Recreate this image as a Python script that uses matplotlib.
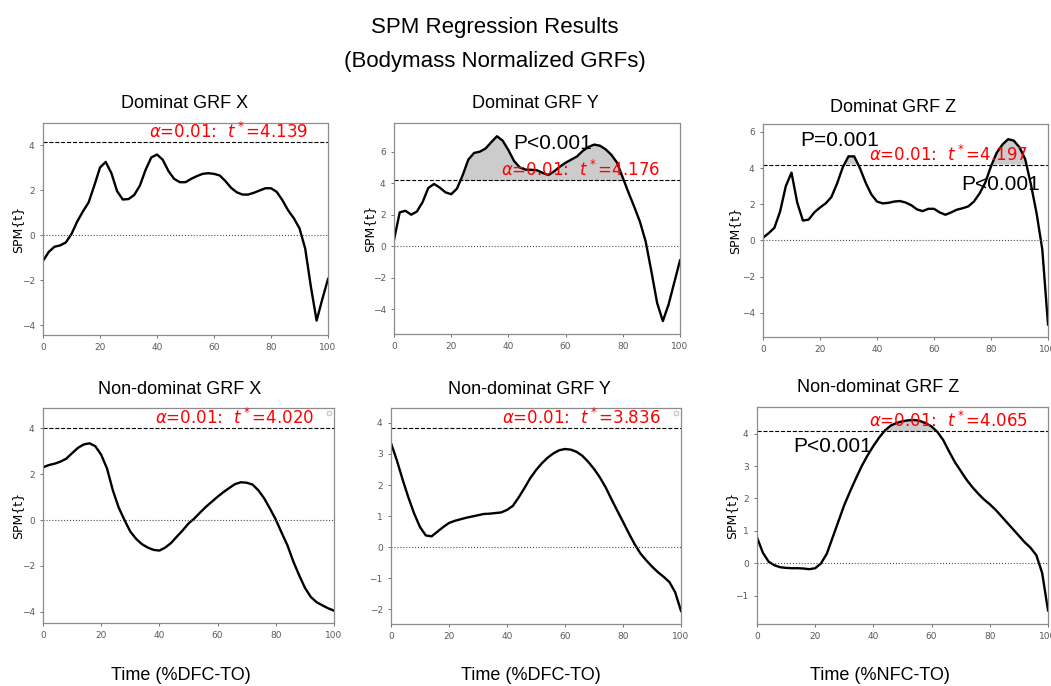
import numpy as np
import matplotlib
matplotlib.use("Agg")
import matplotlib.pyplot as plt

# Tiempo normalizado (% de la fase), muestras cada 2 %
time = np.arange(0, 101, 2)

# Curvas SPM{t}
dom_x = [-1.15, -0.75, -0.52, -0.46, -0.33, 0.05, 0.6, 1.05, 1.45, 2.2, 3.0,
         3.25, 2.75, 1.95, 1.58, 1.6, 1.78, 2.2, 2.9, 3.45, 3.58, 3.35, 2.85,
         2.5, 2.35, 2.35, 2.5, 2.62, 2.72, 2.75, 2.72, 2.65, 2.4, 2.1, 1.9,
         1.8, 1.8, 1.88, 1.98, 2.08, 2.08, 1.92, 1.55, 1.1, 0.75, 0.3, -0.6,
         -2.3, -3.8, -2.85, -1.95]
dom_y = [0.4, 2.15, 2.25, 2.0, 2.2, 2.8, 3.7, 3.95, 3.72, 3.42, 3.3, 3.65,
         4.5, 5.5, 5.92, 6.0, 6.2, 6.6, 6.98, 6.7, 6.1, 5.4, 5.0, 4.86, 4.85,
         4.82, 4.65, 4.52, 4.75, 5.05, 5.3, 5.5, 5.7, 6.05, 6.3, 6.45, 6.38,
         6.15, 5.8, 5.3, 4.35, 3.4, 2.5, 1.55, 0.3, -1.6, -3.6, -4.75, -3.7,
         -2.3, -0.9]
dom_z = [0.15, 0.4, 0.7, 1.6, 3.0, 3.75, 2.1, 1.1, 1.15, 1.55, 1.82, 2.05,
         2.4, 3.15, 4.05, 4.65, 4.65, 4.0, 3.2, 2.55, 2.15, 2.05, 2.08, 2.15,
         2.18, 2.1, 1.95, 1.72, 1.62, 1.75, 1.75, 1.55, 1.42, 1.55, 1.7, 1.78,
         1.88, 2.15, 2.6, 3.2, 4.1, 4.85, 5.3, 5.6, 5.52, 5.15, 4.5, 3.1, 1.5,
         -0.5, -4.65]
nondom_x = [2.3, 2.4, 2.46, 2.55, 2.68, 2.92, 3.15, 3.3, 3.35, 3.22, 2.85,
            2.25, 1.3, 0.55, 0.0, -0.5, -0.82, -1.05, -1.2, -1.3, -1.33, -1.2,
            -1.0, -0.72, -0.45, -0.15, 0.07, 0.33, 0.58, 0.8, 1.02, 1.22, 1.4,
            1.57, 1.65, 1.63, 1.55, 1.3, 0.95, 0.5, 0.02, -0.55, -1.1, -1.8,
            -2.4, -2.95, -3.35, -3.58, -3.72, -3.85, -3.95]
nondom_y = [3.35, 2.8, 2.18, 1.6, 1.08, 0.65, 0.38, 0.35, 0.5, 0.65, 0.78,
            0.85, 0.9, 0.95, 0.99, 1.03, 1.07, 1.08, 1.1, 1.12, 1.2, 1.33, 1.6,
            1.9, 2.22, 2.48, 2.7, 2.88, 3.02, 3.12, 3.16, 3.14, 3.07, 2.94,
            2.75, 2.52, 2.25, 1.93, 1.55, 1.18, 0.82, 0.45, 0.1, -0.2, -0.42,
            -0.62, -0.8, -0.95, -1.12, -1.45, -2.05]
nondom_z = [0.8, 0.33, 0.05, -0.06, -0.12, -0.14, -0.15, -0.15, -0.16, -0.18,
            -0.15, 0.0, 0.3, 0.8, 1.3, 1.8, 2.22, 2.62, 3.0, 3.33, 3.62, 3.88,
            4.1, 4.25, 4.33, 4.38, 4.41, 4.42, 4.39, 4.32, 4.22, 4.05, 3.8,
            3.45, 3.12, 2.85, 2.58, 2.35, 2.15, 1.97, 1.82, 1.65, 1.45, 1.25,
            1.05, 0.85, 0.65, 0.48, 0.25, -0.3, -1.45]

curves = [dom_x, dom_y, dom_z, nondom_x, nondom_y, nondom_z]
titles = ["Dominat GRF X", "Dominat GRF Y", "Dominat GRF Z",
          "Non-dominat GRF X", "Non-dominat GRF Y", "Non-dominat GRF Z"]
thresholds = [4.139, 4.176, 4.197, 4.020, 3.836, 4.065]
alpha = 0.01
xlabels = ["Time (%DFC-TO)", "Time (%DFC-TO)", "Time (%NFC-TO)"]

# etiquetas de p por panel: (texto, x, y) en datos
p_labels = [[], [("P<0.001", 55.5, 6.55)], [("P=0.001", 27, 5.5), ("P<0.001", 83.5, 3.1)],
            [], [], [("P<0.001", 26, 3.6)]]

# Layout (px en figura de 1051x686)
W, H = 1051, 686
boxes = [(43, 328, 123, 335), (394, 680, 123, 334), (763, 1048, 124, 337),
         (43, 334, 408, 623), (391, 681, 408, 624), (757, 1048, 407, 624)]
ylims = [(-4.44, 4.98), (-5.57, 7.82), (-5.34, 6.44),
         (-4.49, 4.89), (-2.47, 4.48), (-1.87, 4.82)]
yticks = [[-4, -2, 0, 2, 4], [-4, -2, 0, 2, 4, 6], [-4, -2, 0, 2, 4, 6],
          [-4, -2, 0, 2, 4], [-2, -1, 0, 1, 2, 3, 4], [-1, 0, 1, 2, 3, 4]]
title_pos = [(185, 104), (535, 104), (893, 108), (180, 390), (529, 390), (878, 388)]
xlabel_pos = [(181, 676), (531, 676), (880, 676)]
ylabel_x = [18, 370, 735, 18, None, 732]

fig = plt.figure(figsize=(W / 100, H / 100), dpi=100)

fig.text(495 / W, 1 - 27 / H, "SPM Regression Results", ha='center', va='center',
         fontsize=16, family='Liberation Sans')
fig.text(495 / W, 1 - 62 / H, "(Bodymass Normalized GRFs)", ha='center', va='center',
         fontsize=16, family='Liberation Sans')

for i in range(6):
    l, r, t, b = boxes[i]
    ax = fig.add_axes([l / W, 1 - b / H, (r - l) / W, (b - t) / H])
    y = np.array(curves[i])
    th = thresholds[i]
    ax.fill_between(time, y, th, where=y > th, interpolate=True,
                    color='0.8', lw=0)
    ax.plot(time, y, color='k', lw=1.7)
    ax.axhline(th, color='k', ls='--', lw=0.8)
    ax.axhline(0, color='0.3', ls=':', lw=0.8)
    ax.text(93, th, r'$\alpha$=%.2f:  $t^*$=%.3f' % (alpha, th), color='r',
            ha='right', va='bottom', fontsize=12)
    for txt, px, py in p_labels[i]:
        ax.text(px, py, txt, ha='center', va='center', fontsize=15,
                family='Liberation Sans')
    ax.set_xlim(0, 100)
    ax.set_ylim(*ylims[i])
    ax.set_xticks([0, 20, 40, 60, 80, 100])
    ax.set_yticks(yticks[i])
    ax.tick_params(labelsize=6.5, colors='0.35', length=2.5, width=0.6)
    for sp in ax.spines.values():
        sp.set_color('0.55')
        sp.set_linewidth(0.9)
    if i in (3, 4):
        ax.legend([], [], loc='upper right', fontsize=4, framealpha=1)
    if ylabel_x[i] is not None:
        fig.text(ylabel_x[i] / W, 1 - ((t + b) / 2) / H, "SPM{t}", rotation=90,
                 ha='center', va='center', fontsize=9)
    tx, ty = title_pos[i]
    fig.text(tx / W, 1 - ty / H, titles[i], ha='center', va='center',
             fontsize=13, family='Liberation Sans')

for j in range(3):
    xx, yy = xlabel_pos[j]
    fig.text(xx / W, 1 - yy / H, xlabels[j], ha='center', va='center',
             fontsize=13, family='Liberation Sans')

fig.savefig("out.png", dpi=100)
